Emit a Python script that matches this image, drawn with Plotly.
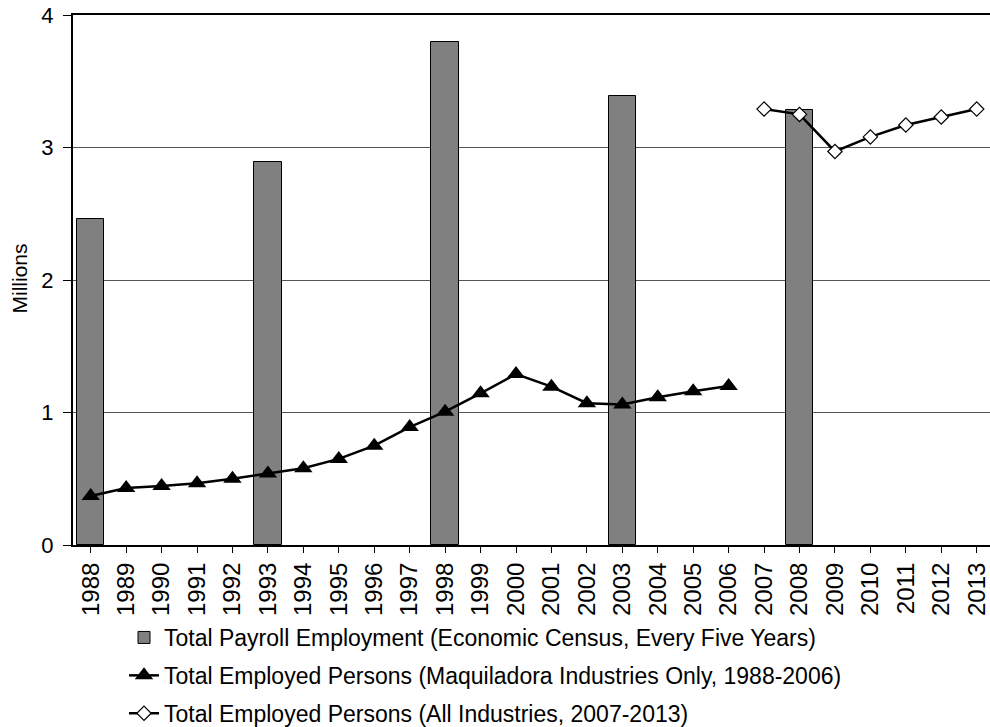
import plotly.graph_objects as go

years = list(range(1988, 2014))
year_labels = [str(y) for y in years]

census_years = [1988, 1993, 1998, 2003, 2008]
census_values = [2.46, 2.89, 3.80, 3.39, 3.28]

maq_years = list(range(1988, 2007))
maq_values = [0.37, 0.43, 0.445, 0.466, 0.50, 0.54, 0.58, 0.65, 0.75, 0.89,
              1.006, 1.145, 1.29, 1.195, 1.07, 1.06, 1.115, 1.16, 1.20]

all_years = list(range(2007, 2014))
all_values = [3.29, 3.25, 2.97, 3.08, 3.17, 3.23, 3.29]

y_ticks = [0, 1, 2, 3, 4]

FONT = "Liberation Sans, Arial, sans-serif"

fig = go.Figure()
fig.add_trace(go.Bar(
    x=census_years, y=census_values,
    name="Total Payroll Employment (Economic Census, Every Five Years)",
    width=0.77,
    marker=dict(color="#808080", line=dict(color="#000000", width=1)),
    legendgroup="a",
))
fig.add_trace(go.Scatter(
    x=maq_years, y=maq_values, mode="lines+markers",
    name="Total Employed Persons (Maquiladora Industries Only, 1988-2006)",
    line=dict(color="#000000", width=2.5),
    marker=dict(symbol="triangle-up", size=16, color="#000000"),
    legendgroup="b",
))
fig.add_trace(go.Scatter(
    x=all_years, y=all_values, mode="lines+markers",
    name="Total Employed Persons (All Industries, 2007-2013)",
    line=dict(color="#000000", width=2.5),
    marker=dict(symbol="diamond", size=11, color="#ffffff",
                line=dict(color="#000000", width=1.2)),
    legendgroup="c",
))

fig.update_layout(
    width=990, height=727,
    margin=dict(l=73, r=0, t=15, b=182, autoexpand=False),
    paper_bgcolor="#ffffff", plot_bgcolor="#ffffff",
    font=dict(family=FONT, color="#000000", size=22),
    showlegend=True,
    legend=dict(
        x=124 / 990, y=1 - 616 / 727, xref="container", yref="container",
        xanchor="left", yanchor="top",
        font=dict(size=23, family=FONT),
        tracegroupgap=5,
        bgcolor="rgba(0,0,0,0)",
        itemwidth=30,
    ),
    bargap=0,
    annotations=[dict(
        text="Millions", xref="paper", yref="paper",
        x=(19 - 73) / 917, y=(545 - 278.5) / 530,
        xanchor="center", yanchor="middle", textangle=-90,
        showarrow=False, font=dict(size=21, family=FONT, color="#000000"),
    )],
)
fig.update_xaxes(
    range=[1987.5, 2013.375],
    tickmode="array", tickvals=years, ticktext=year_labels,
    tickangle=-90,
    tickfont=dict(size=24, family=FONT),
    showgrid=False,
    showline=True, linecolor="#000000", linewidth=2,
    mirror=True,
    ticks="outside", ticklen=6, tickcolor="#000000", tickwidth=1,
    zeroline=False,
)
fig.update_yaxes(
    range=[0, 4],
    tickmode="array", tickvals=y_ticks,
    tickfont=dict(size=22, family=FONT),
    ticklabelstandoff=5,
    showgrid=True, gridcolor="#555555", gridwidth=1,
    showline=True, linecolor="#000000", linewidth=2,
    ticks="outside", ticklen=8, tickcolor="#000000", tickwidth=1,
    zeroline=False,
)

fig.write_html("out.html")
